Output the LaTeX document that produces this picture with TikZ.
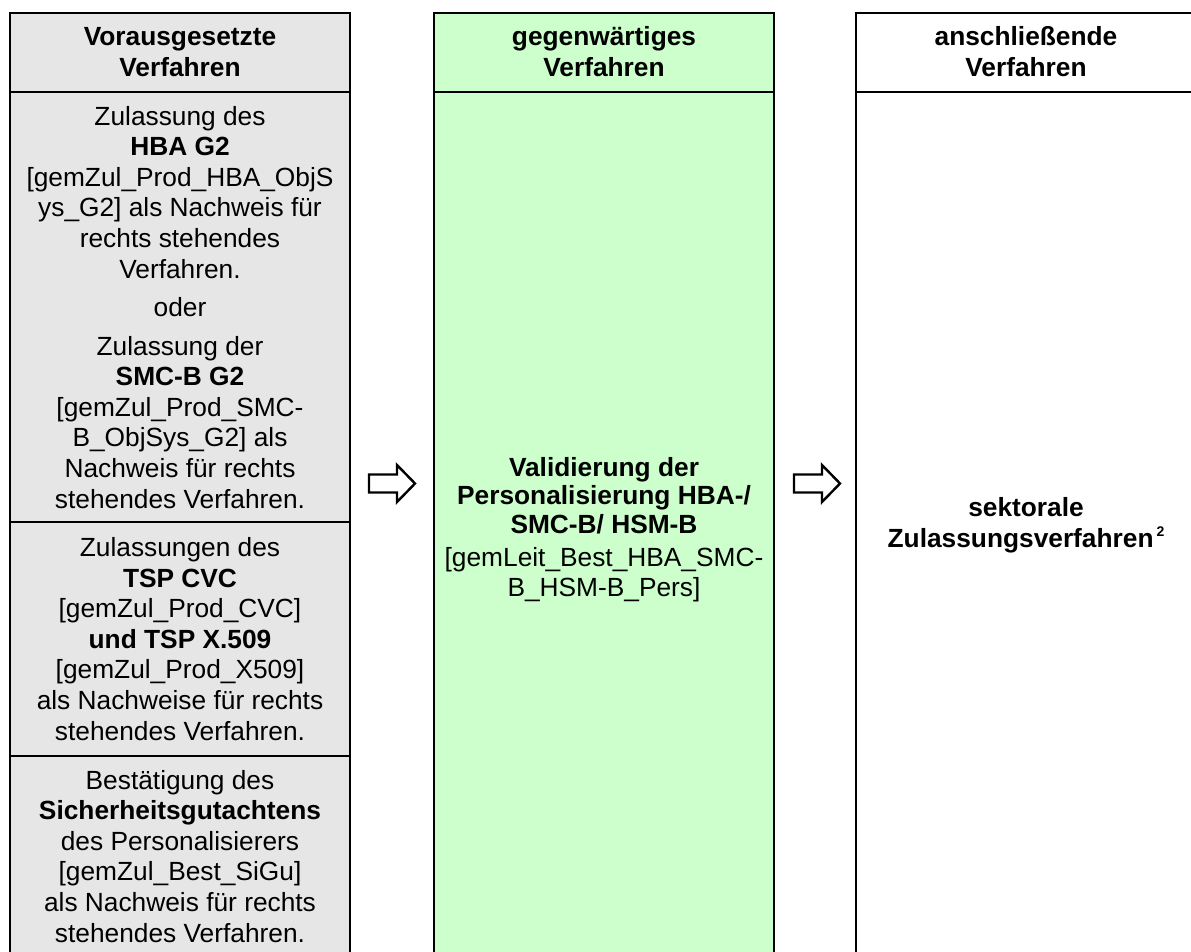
\documentclass[tikz,border=0pt]{standalone}
\usepackage{fontspec}
\setmainfont{Liberation Sans}
\definecolor{cellgray}{HTML}{E6E6E6}
\definecolor{cellgreen}{HTML}{CCFFCC}
\begin{document}
\begin{tikzpicture}[x=1pt,y=-1pt,
  cell/.style={draw=black,line width=2.2pt,rectangle,minimum width=340pt,inner sep=0pt},
  txt/.style={anchor=base,align=center,inner sep=0pt,font=\fontsize{26.3}{30.6}\selectfont},
  btxt/.style={txt,font=\fontsize{26.3}{30.6}\selectfont\bfseries},
  blockarrow/.style={draw=black,line width=2.4pt,fill=white,line join=miter}]
\useasboundingbox (0,0) rectangle (1191,951);
\clip (0,0) rectangle (1191,951);
% left column
\node[cell,fill=cellgray,minimum height=79pt]  (hdrL) at (180,52.5) {};
\node[cell,fill=cellgray,minimum height=430pt] (cL1) at (180,307) {};
\node[cell,fill=cellgray,minimum height=234pt] (cL2) at (180,639) {};
\node[cell,fill=cellgray,minimum height=260pt] (cL3) at (180,886) {};
% middle column
\node[cell,fill=cellgreen,minimum height=79pt]  (hdrM) at (604,52.5) {};
\node[cell,fill=cellgreen,minimum height=920pt] (cM) at (604,552) {};
% right column
\node[cell,fill=white,minimum height=79pt]  (hdrR) at (1026,52.5) {};
\node[cell,fill=white,minimum height=920pt] (cR) at (1026,552) {};
% header texts (base = last line)
\node[btxt] (tHL) at (180,76) {Vorausgesetzte\\Verfahren};
\node[btxt] (tHM) at (604,76) {gegenwärtiges\\Verfahren};
\node[btxt] (tHR) at (1026,76) {anschließende\\Verfahren};
% left texts
\node[txt] (tL1) at (180,278) {Zulassung des\\\textbf{HBA G2}\\{[}gemZul\_Prod\_HBA\_ObjS\\ys\_G2] als Nachweis für\\rechts stehendes\\Verfahren.};
\node[txt] (tOder) at (180,316) {oder};
\node[txt] (tL2) at (180,508) {Zulassung der\\\textbf{SMC-B G2}\\{[}gemZul\_Prod\_SMC-\\B\_ObjSys\_G2] als\\Nachweis für rechts\\stehendes Verfahren.};
\node[txt] (tL3) at (180,740) {Zulassungen des\\\textbf{TSP CVC}\\{[}gemZul\_Prod\_CVC]\\\textbf{und TSP X.509}\\{[}gemZul\_Prod\_X509]\\als Nachweise für rechts\\stehendes Verfahren.};
\node[txt] (tL4) at (180,942) {Bestätigung des\\\textbf{Sicherheitsgutachtens}\\des Personalisierers\\{[}gemZul\_Best\_SiGu]\\als Nachweis für rechts\\stehendes Verfahren.};
% middle texts
\node[btxt,font=\fontsize{26.3}{28.5}\selectfont\bfseries] (tM1) at (604,533) {Validierung der\\Personalisierung HBA-/\\SMC-B/ HSM-B};
\node[txt,font=\fontsize{26.3}{29.5}\selectfont] (tM2) at (604,596) {{[}gemLeit\_Best\_HBA\_SMC-\\B\_HSM-B\_Pers]};
% right texts
\node[btxt] (tR) at (1026,547) {sektorale\\Zulassungsverfahren\kern3pt\raisebox{11pt}{\fontsize{14}{14}\selectfont\bfseries 2}};
% block arrows
\coordinate (a1) at (369,483.5);
\coordinate (a2) at (794,483.5);
\foreach \c in {a1,a2}{
  \draw[blockarrow] (\c) ++(0,-9) -- ++(28,0) -- ++(0,-9.5) -- ++(18,18.5) -- ++(-18,18.5) -- ++(0,-9.5) -- ++(-28,0) -- cycle;
}
\end{tikzpicture}
\end{document}
